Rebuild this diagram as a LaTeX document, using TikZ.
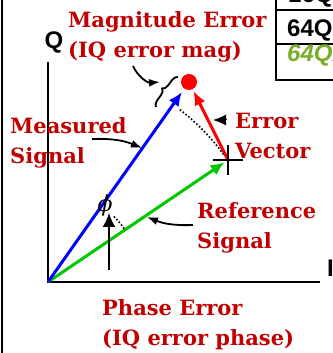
\documentclass[tikz,border=0pt]{standalone}
\usepackage{fontspec}
\setmainfont{DejaVu Serif}
\newfontfamily\axfont{Liberation Sans}
\usetikzlibrary{arrows.meta,decorations.pathreplacing}
\definecolor{lblc}{HTML}{C00000}
\definecolor{measc}{HTML}{0000FF}
\definecolor{refc}{HTML}{00C800}
\definecolor{errc}{HTML}{FF0000}
\definecolor{tabgc}{HTML}{78AD2A}
\tikzset{
  vec/.style={line width=3pt,-{Latex[length=14pt,width=12pt]}},
  lbl/.style={text=lblc,font=\bfseries\fontsize{21}{30}\selectfont,align=left,inner sep=0pt,anchor=west},
  ptr/.style={black,line width=1.8pt,-{Latex[length=11pt,width=8pt]}},
  dotarc/.style={black,line width=1.6pt,dotted},
  axl/.style={font=\axfont\bfseries\fontsize{24}{24}\selectfont,inner sep=0pt}
}
\begin{document}
\begin{tikzpicture}[x=1pt,y=1pt]
\useasboundingbox (0,0) rectangle (332,353);
% pieces of the slide cut by the crop
\draw[line width=2.5pt] (2,0) -- (2,353);
\draw[line width=2.5pt] (276,353) -- (276,273) -- (340,273);
\draw[line width=2pt] (276,343) -- (340,343) (276,309) -- (340,309);
\node[axl,anchor=base west] (tab0) at (288,350) {16QAM};
\node[axl,anchor=base west] (tabA) at (287,316) {64QAM};
\node[axl,anchor=base west,text=tabgc,font=\axfont\bfseries\itshape\fontsize{24}{24}\selectfont] (tabB) at (287,291) {64QAM};
% axes
\coordinate (O) at (48,71);
\coordinate (qtop) at (48,291);
\coordinate (iend) at (320,71);
\draw[line width=1.8pt] (qtop) -- (O) -- (iend);
\node[axl] (Q) at (54,311) {Q};
\node[axl,anchor=west] (I) at (327,85) {I};
% vectors
\node[circle,fill=errc,minimum size=16pt,inner sep=0pt] (M) at (189,271) {};
\coordinate (C) at (228,193);
\draw[vec,refc,shorten >=4pt] (O) -- (C);
\draw[vec,measc,shorten >=4pt] (O) -- (M);
\draw[vec,errc,shorten >=2pt] (C) -- (M);
\draw[line width=1.8pt] (C) ++(-15,0) -- ++(30,0) (C) ++(0,15) -- ++(0,-30);
% arcs
\draw[dotarc] (O) ++(36:217) arc[start angle=36,end angle=53,radius=217];
\draw[dotarc] (O) ++(35:93) arc[start angle=35,end angle=46,radius=93];
% phase error
\coordinate (ph0) at (109,83);
\coordinate (ph1) at (109,140);
\draw[line width=1.8pt,-{Latex[length=14pt,width=13pt]}] (ph0) -- (ph1);
\node[font=\itshape\fontsize{22}{22}\selectfont,inner sep=0pt] (phi) at (105,148) {ϕ};
% magnitude brace
\coordinate (br0) at (156,246);
\coordinate (br1) at (178,276);
\draw[line width=1.8pt,decorate,decoration={brace,amplitude=6pt}] (br0) -- (br1);
% labels
\node[lbl] (mag) at (68,316) {Magnitude Error\\(IQ error mag)};
\node[lbl] (err) at (235,217) {Error\\Vector};
\node[lbl] (meas) at (10,210) {Measured\\Signal};
\node[lbl] (ref) at (197,125) {Reference\\Signal};
\node[lbl] (pha) at (102,28) {Phase Error\\(IQ error phase)};
% pointers
\coordinate (magp) at (133,287);
\coordinate (magq) at (160,271);
\coordinate (measp) at (92,214);
\coordinate (measq) at (142,205);
\coordinate (refp) at (193,128);
\coordinate (refq) at (147,136);
\coordinate (errp) at (227,233);
\coordinate (errq) at (213,233);
\draw[ptr] (magp) to[bend right=35] (magq);
\draw[ptr] (measp) to[bend left=12] (measq);
\draw[ptr] (refp) to[bend left=12] (refq);
\draw[line width=1pt,-{Latex[length=13pt,width=11pt]}] (errp) -- (errq);
\end{tikzpicture}
\end{document}
